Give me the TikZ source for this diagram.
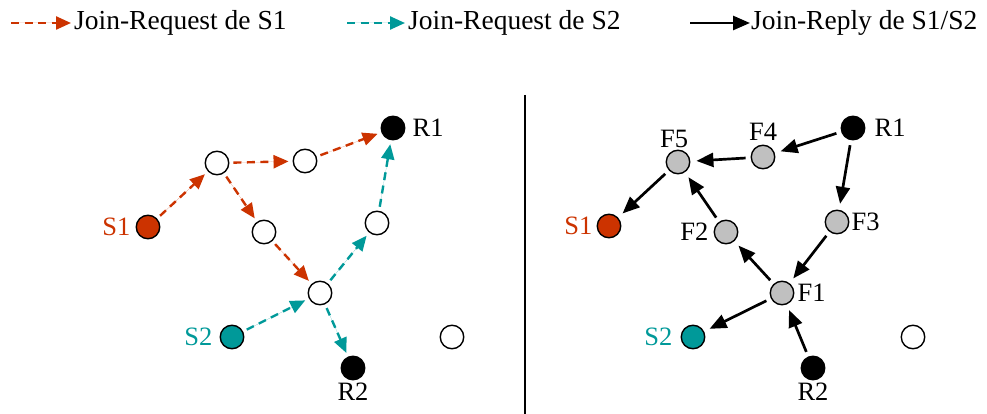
\documentclass[tikz,border=0pt]{standalone}
\usepackage{fontspec}
\setmainfont{Liberation Serif}
\usetikzlibrary{arrows.meta,positioning}
\definecolor{reqred}{HTML}{CC3300}
\definecolor{reqteal}{HTML}{009999}
\definecolor{fwdgray}{HTML}{C0C0C0}

\begin{document}
\begin{tikzpicture}[
    x=1pt, y=-1pt,
    rtr/.style={circle, draw=black, line width=1.4pt, minimum size=23.5pt, inner sep=0pt, fill=white},
    rcv/.style={rtr, fill=black},
    srcA/.style={rtr, fill=reqred},
    srcB/.style={rtr, fill=reqteal},
    fwd/.style={rtr, fill=fwdgray},
    lbl/.style={font=\fontsize{26.5}{30}\selectfont, inner sep=1pt},
    legtxt/.style={font=\fontsize{27.5}{32}\selectfont, inner sep=1pt, anchor=west},
    joinreq/.style={-{Triangle[length=15pt,width=13pt]}, line width=2.4pt, dash pattern=on 8pt off 5.5pt, shorten >=4pt, shorten <=4pt},
    reqA/.style={joinreq, draw=reqred, fill=reqred},
    reqB/.style={joinreq, draw=reqteal, fill=reqteal},
    joinrep/.style={-{Triangle[length=17pt,width=14pt]}, line width=2.7pt, draw=black, shorten >=6pt, shorten <=5pt}
]
    \useasboundingbox (0,0) rectangle (987,414);

    % legend
    \node[legtxt] (leg1) at (73,23) {Join-Request de S1};
    \node[legtxt] (leg2) at (407,23) {Join-Request de S2};
    \node[legtxt] (leg3) at (750,23) {Join-Reply de S1/S2};
    \coordinate (leg1s) at ([xshift=-62pt]leg1.west);
    \coordinate (leg2s) at ([xshift=-60pt]leg2.west);
    \coordinate (leg3s) at ([xshift=-60pt]leg3.west);
    \draw[reqA, shorten <=0pt, shorten >=2pt] (leg1s) -- (leg1.west);
    \draw[reqB, shorten <=0pt, shorten >=2pt] (leg2s) -- (leg2.west);
    \draw[joinrep, shorten <=0pt, shorten >=0pt] (leg3s) -- (leg3.west);

    % separator
    \coordinate (sepT) at (525,95);
    \coordinate (sepB) at (525,414);
    \draw[line width=2pt] (sepT) -- (sepB);

    % left: join-request flooding
    \node[rcv]  (lR1) at (393,128) {};
    \node[rtr]  (lA)  at (217,163) {};
    \node[rtr]  (lB)  at (305,161) {};
    \node[srcA] (lS1) at (148,227) {};
    \node[rtr]  (lC)  at (264,232) {};
    \node[rtr]  (lD)  at (377,223) {};
    \node[rtr]  (lE)  at (320,293) {};
    \node[srcB] (lS2) at (232,337) {};
    \node[rcv]  (lR2) at (353,368) {};
    \node[rtr]  (lX)  at (452,337) {};

    \node[lbl, right=6pt of lR1] (tlR1) {R1};
    \node[lbl, left=4pt of lS1, text=reqred] (tlS1) {S1};
    \node[lbl, left=6pt of lS2, text=reqteal] (tlS2) {S2};
    \node[lbl, below=1pt of lR2] (tlR2) {R2};

    \draw[reqA] (lS1) -- (lA);
    \draw[reqA] (lA) -- (lB);
    \draw[reqA] (lB) -- (lR1);
    \draw[reqA] (lA) -- (lC);
    \draw[reqA] (lC) -- (lE);

    \draw[reqB] (lS2) -- (lE);
    \draw[reqB] (lE) -- (lD);
    \draw[reqB] (lD) -- (lR1);
    \draw[reqB] (lE) -- (lR2);

    % right: join-reply and forwarders
    \node[rcv]  (rR1) at (853,128) {};
    \node[fwd]  (F4)  at (763,157) {};
    \node[fwd]  (F5)  at (678,162) {};
    \node[srcA] (rS1) at (609,226) {};
    \node[fwd]  (F2)  at (726,232) {};
    \node[fwd]  (F3)  at (837,222) {};
    \node[fwd]  (F1)  at (782,293) {};
    \node[srcB] (rS2) at (693,337) {};
    \node[rcv]  (rR2) at (813,368) {};
    \node[rtr]  (rX)  at (913,337) {};

    \node[lbl, right=8pt of rR1] (trR1) {R1};
    \node[lbl, above=1pt of F5, xshift=-4pt] (tF5) {F5};
    \node[lbl, above=3pt of F4] (tF4) {F4};
    \node[lbl, right=1pt of F3] (tF3) {F3};
    \node[lbl, left=4pt of F2] (tF2) {F2};
    \node[lbl, right=2pt of F1] (tF1) {F1};
    \node[lbl, left=3pt of rS1, text=reqred] (trS1) {S1};
    \node[lbl, left=7pt of rS2, text=reqteal] (trS2) {S2};
    \node[lbl, below=1pt of rR2] (trR2) {R2};

    \draw[joinrep] (rR1) -- (F4);
    \draw[joinrep] (F4) -- (F5);
    \draw[joinrep] (F5) -- (rS1);
    \draw[joinrep] (rR1) -- (F3);
    \draw[joinrep] (F3) -- (F1);
    \draw[joinrep] (F1) -- (F2);
    \draw[joinrep] (F2) -- (F5);
    \draw[joinrep] (F1) -- (rS2);
    \draw[joinrep] (rR2) -- (F1);
\end{tikzpicture}
\end{document}
